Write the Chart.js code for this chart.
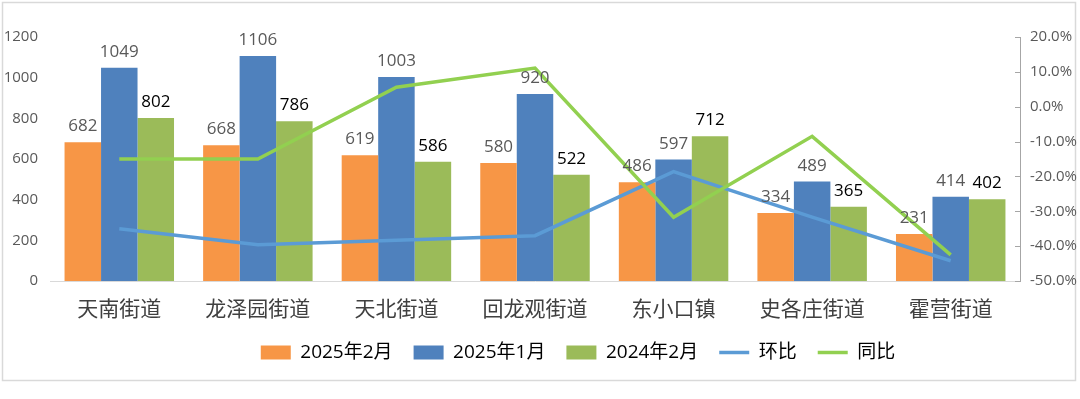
<!DOCTYPE html>
<html>
<head>
<meta charset="utf-8">
<script src="https://cdn.jsdelivr.net/npm/chart.js@4/dist/chart.umd.min.js"></script>
<style>
  html, body { margin: 0; padding: 0; background: #fff; }
  #wrap { position: absolute; left: 0; top: 0; width: 1080px; height: 399px; }
</style>
</head>
<body>
<div id="wrap"><canvas id="c"></canvas></div>
<script>
const categories = ['天南街道', '龙泽园街道', '天北街道', '回龙观街道', '东小口镇', '史各庄街道', '霍营街道'];
const feb2025 = [682, 668, 619, 580, 486, 334, 231];
const jan2025 = [1049, 1106, 1003, 920, 597, 489, 414];
const feb2024 = [802, 786, 586, 522, 712, 365, 402];
const momPct = [-35.0, -39.6, -38.3, -37.0, -18.6, -31.7, -44.2];
const yoyPct = [-15.0, -15.0, 5.6, 11.1, -31.7, -8.5, -42.5];
const leftTicks = [0, 200, 400, 600, 800, 1000, 1200];
const rightTicks = [-50, -40, -30, -20, -10, 0, 10, 20];

const NUM_FONT = '"Open Sans", "Noto Sans CJK SC", sans-serif';
const CJK_FONT = '"Noto Sans CJK SC", sans-serif';

const borderPlugin = {
  id: 'frame',
  beforeDraw(chart) {
    const ctx = chart.ctx;
    ctx.save();
    ctx.strokeStyle = '#d9d9d9';
    ctx.lineWidth = 1.5;
    ctx.strokeRect(2.5, 2.5, 1073, 378);
    ctx.restore();
  }
};

const legendShift = {
  id: 'legendShift',
  afterLayout(chart) {
    const l = chart.legend;
    if (l) { l.left += 38; l.right += 38; }
  }
};

const labelPlugin = {
  id: 'barLabels',
  afterDatasetsDraw(chart) {
    const ctx = chart.ctx;
    ctx.save();
    ctx.textAlign = 'center';
    ctx.textBaseline = 'alphabetic';
    chart.data.datasets.forEach((ds, i) => {
      if (ds.type !== 'bar') return;
      const meta = chart.getDatasetMeta(i);
      ctx.fillStyle = ds.labelColor;
      ctx.font = '17px ' + NUM_FONT;
      meta.data.forEach((el, j) => {
        ctx.fillText(String(ds.data[j]), el.x, el.y - 11);
      });
    });
    ctx.restore();
  }
};

const rightTickPlugin = {
  id: 'rightTicks',
  afterDraw(chart) {
    const s = chart.scales.y2;
    const ctx = chart.ctx;
    ctx.save();
    ctx.strokeStyle = '#a6a6a6';
    ctx.lineWidth = 1;
    s.ticks.forEach(t => {
      const y = Math.round(s.getPixelForValue(t.value)) + 0.5;
      ctx.beginPath();
      ctx.moveTo(s.left - 5, y);
      ctx.lineTo(s.left, y);
      ctx.stroke();
    });
    ctx.restore();
  }
};

new Chart(document.getElementById('c'), {
  data: {
    labels: categories,
    datasets: [
      { type: 'bar', label: '2025年2月', data: feb2025, backgroundColor: '#f79646', labelColor: '#595959', yAxisID: 'y', order: 1 },
      { type: 'bar', label: '2025年1月', data: jan2025, backgroundColor: '#4f81bd', labelColor: '#595959', yAxisID: 'y', order: 1 },
      { type: 'bar', label: '2024年2月', data: feb2024, backgroundColor: '#9bbb59', labelColor: '#000000', yAxisID: 'y', order: 1 },
      { type: 'line', label: '环比', data: momPct, borderColor: '#5b9bd5', backgroundColor: '#5b9bd5', borderWidth: 3.5, pointRadius: 0, tension: 0, yAxisID: 'y2', order: 0 },
      { type: 'line', label: '同比', data: yoyPct, borderColor: '#92d050', backgroundColor: '#92d050', borderWidth: 3.5, pointRadius: 0, tension: 0, yAxisID: 'y2', order: -1 }
    ]
  },
  options: {
    responsive: true,
    maintainAspectRatio: false,
    animation: false,
    datasets: { bar: { categoryPercentage: 0.79, barPercentage: 1.0 } },
    layout: { padding: { top: 37, left: 0, right: 0, bottom: 27 } },
    scales: {
      x: {
        grid: { display: false, drawTicks: false },
        border: { display: true, color: '#d9d9d9', width: 1 },
        ticks: { font: { size: 21, family: CJK_FONT }, color: '#404040', padding: 14, maxRotation: 0, autoSkip: false },
        afterFit(s) { s.height = 41; }
      },
      y: {
        position: 'left',
        min: 0, max: 1200,
        afterBuildTicks(s) { s.ticks = leftTicks.map(v => ({ value: v })); },
        grid: { display: false, drawTicks: false },
        border: { display: false },
        ticks: { font: { size: 15, family: NUM_FONT }, color: '#595959', padding: 12, callback: v => String(v) },
        afterFit(s) { s.width = 50; }
      },
      y2: {
        position: 'right',
        min: -50, max: 20,
        afterBuildTicks(s) { s.ticks = rightTicks.map(v => ({ value: v })); },
        grid: { display: false, drawTicks: false },
        border: { display: true, color: '#a6a6a6', width: 1 },
        ticks: { font: { size: 15, family: NUM_FONT }, color: '#595959', padding: 10, callback: v => v.toFixed(1) + '%' },
        afterFit(s) { s.width = 60; }
      }
    },
    plugins: {
      tooltip: { enabled: false },
      legend: {
        position: 'bottom',
        labels: {
          usePointStyle: true,
          pointStyleWidth: 30,
          boxHeight: 14,
          padding: 21,
          color: '#000',
          font: { size: 19, family: NUM_FONT },
          generateLabels(chart) {
            return chart.data.datasets.map((ds, i) => ({
              text: ds.label,
              datasetIndex: i,
              fillStyle: ds.backgroundColor,
              strokeStyle: ds.type === 'line' ? ds.borderColor : ds.backgroundColor,
              lineWidth: ds.type === 'line' ? 3.5 : 0,
              pointStyle: ds.type === 'line' ? 'line' : 'rect',
              fontColor: '#000',
              hidden: false
            }));
          }
        }
      }
    }
  },
  plugins: [borderPlugin, legendShift, labelPlugin, rightTickPlugin]
});
</script>
</body>
</html>
